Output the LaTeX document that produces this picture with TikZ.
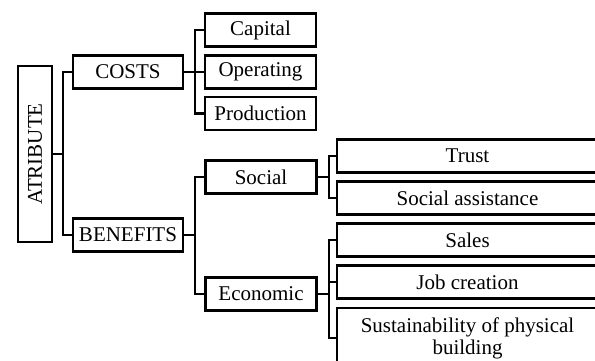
\documentclass[tikz,border=0pt]{standalone}
\usepackage{fontspec}
\setmainfont{Liberation Serif}
\usetikzlibrary{calc}
\tikzset{
  /tikz/.cd,
  item/.style={draw,line width=2.2pt,inner sep=0pt,minimum height=33pt,font=\fontsize{21}{22}\selectfont},
  link/.style={line width=2.2pt}
}

\begin{document}
\begin{tikzpicture}[x=1pt,y=-1pt,
                    mid/.style={item,minimum width=111pt},
                    leaf/.style={item,minimum width=261pt}]
      \useasboundingbox (0,0) rectangle (595,360);
      \clip (0,0) rectangle (595,360);

      \node[item,rotate=90,minimum width=176pt,minimum height=34pt] (attr) at (35,154) {ATRIBUTE};

      \node[item,minimum width=110pt] (costs) at (128,72) {COSTS};
      \node[item,minimum width=110pt] (benefits) at (128,235) {BENEFITS};

      \node[mid] (capital) at (260.5,30) {Capital};
      \node[mid] (operating) at (260.5,72) {Operating};
      \node[mid] (production) at (260.5,113.5) {Production};
      \node[mid] (social) at (261,177) {Social};
      \node[mid] (economic) at (261,294) {Economic};

      \node[leaf] (trust) at (467.5,156) {Trust};
      \node[leaf] (assist) at (467.5,198) {Social assistance};
      \node[leaf] (sales) at (467.5,240) {Sales};
      \node[leaf] (jobs) at (467.5,282) {Job creation};
      \node[leaf,minimum height=60pt,align=center] (building) at (467.5,338) {Sustainability of physical\\building};

      \draw[link] (attr.south) -- ++(10,0) |- (costs);
      \draw[link] (attr.south) -- ++(10,0) |- (benefits);

      \foreach \n in {capital,operating,production}
        \draw[link] (costs.east) -- ++(11,0) |- (\n);
      \foreach \n in {social,economic}
        \draw[link] (benefits.east) -- ++(11,0) |- (\n);
      \foreach \n in {trust,assist}
        \draw[link] (social.east) -- ++(11,0) |- (\n);
      \foreach \n in {sales,jobs,building}
        \draw[link] (economic.east) -- ++(11,0) |- (\n);
    \end{tikzpicture}
\end{document}
